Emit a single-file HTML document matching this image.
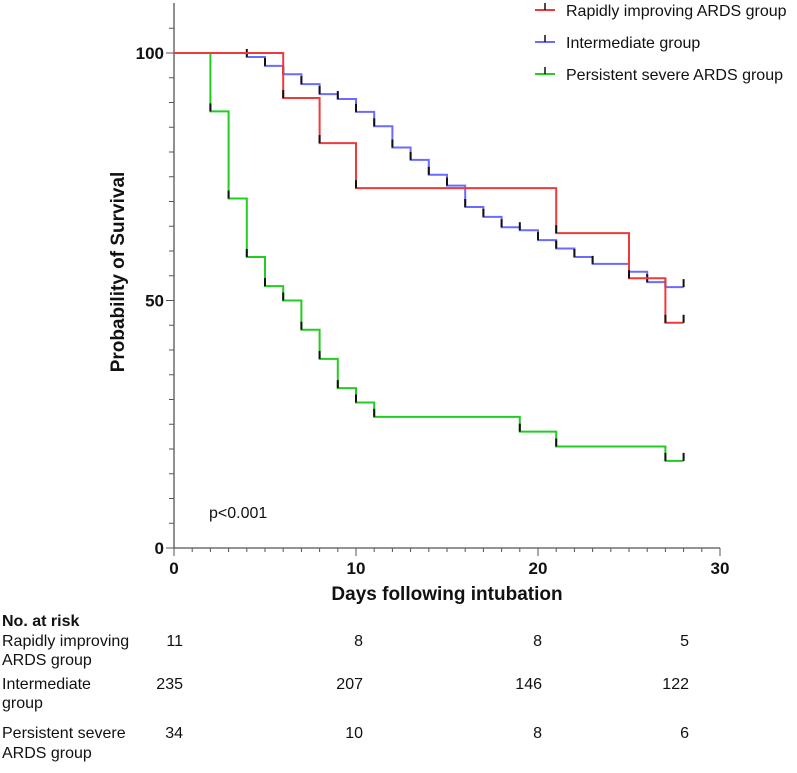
<!DOCTYPE html>
<html><head><meta charset="utf-8"><style>
html,body{margin:0;padding:0;background:#fff;width:797px;height:773px;overflow:hidden}
svg text{font-family:"Liberation Sans",Arial,sans-serif}
</style></head><body>
<svg id="chart" width="797" height="773" viewBox="0 0 797 773" xmlns="http://www.w3.org/2000/svg"></svg>
<script>
const redDays=[0,6,8,10,21,25,27,28];
const redVals=[100,90.9,81.8,72.7,63.6,54.5,45.5,45.5];
const blueDays=[0,4,5,6,7,8,9,10,11,12,13,14,15,16,17,18,19,20,21,22,23,25,26,27,28];
const blueVals=[100,99.2,97.4,95.7,93.7,91.7,90.7,88.1,85.2,80.9,78.4,75.4,73.2,68.9,66.9,64.8,64.2,62.2,60.5,58.8,57.4,55.8,53.7,52.7,52.7];
const greenDays=[0,2,3,4,5,6,7,8,9,10,11,19,21,27,28];
const greenVals=[100,88.2,70.6,58.8,52.9,50,44.1,38.2,32.3,29.4,26.5,23.5,20.5,17.6,17.6];
const xTicks=[0,10,20,30];
const yTicks=[0,50,100];
const riskDays=[0,10,20,28];
const riskRed=[11,8,8,5];
const riskBlue=[235,207,146,122];
const riskGreen=[34,10,8,6];

const X0=174,XPX=18.2,Y0=548,YPX=4.95;
function x(d){return X0+d*XPX;}
function y(v){return Y0-v*YPX;}
const svg=document.getElementById('chart');
const NS='http://www.w3.org/2000/svg';
function mk(tag,attrs,parent){const e=document.createElementNS(NS,tag);for(const k in attrs)e.setAttribute(k,attrs[k]);(parent||svg).appendChild(e);return e;}

// axes
const ax=mk('g',{});


mk('line',{x1:X0,y1:3,x2:X0,y2:Y0,stroke:'#555','stroke-width':1.3},ax);
mk('line',{x1:X0,y1:Y0,x2:x(30),y2:Y0,stroke:'#555','stroke-width':1.3},ax);
for(let v=0;v<=105;v+=5){const L=(v%50===0)?8:5;mk('line',{x1:X0-L,y1:y(v),x2:X0,y2:y(v),stroke:'#555','stroke-width':1},ax);}
for(let d=0;d<=30;d++){const L=(d%10===0)?8:4;mk('line',{x1:x(d),y1:Y0,x2:x(d),y2:Y0+L,stroke:'#555','stroke-width':1},ax);}
yTicks.forEach(v=>{const t=mk('text',{x:X0-10,y:y(v)+6,'text-anchor':'end','font-size':17,'font-weight':'bold',fill:'#111'},ax);t.textContent=v;
});
xTicks.forEach(d=>{const t=mk('text',{x:x(d),y:Y0+26,'text-anchor':'middle','font-size':17,'font-weight':'bold',fill:'#111'},ax);t.textContent=d;
});
const xt=mk('text',{x:447,y:600,'text-anchor':'middle','font-size':19,'font-weight':'bold',fill:'#111'});
xt.textContent='Days following intubation';


const yt=mk('text',{x:0,y:0,'text-anchor':'middle','font-size':19,'font-weight':'bold',fill:'#111',transform:'translate(124,272) rotate(-90)'});
yt.textContent='Probability of Survival';


const pt=mk('text',{x:209,y:518,'font-size':16,fill:'#111'});
pt.textContent='p<0.001';



function curve(days,vals,color,name){
  const g=mk('g',{});
  
  
  let d='M'+x(days[0])+','+y(vals[0]);
  for(let i=1;i<days.length;i++){d+=' H'+x(days[i])+' V'+y(vals[i]);}
  mk('path',{d:d,fill:'none',stroke:color,'stroke-width':2},g);
  for(let i=1;i<days.length;i++){
    const tk=mk('line',{x1:x(days[i]),y1:y(vals[i])-8,x2:x(days[i]),y2:y(vals[i]),stroke:'#111','stroke-width':2},g);
    
    
  }
}
curve(blueDays,blueVals,'#6b6bff','intermediate-curve');
curve(greenDays,greenVals,'#22cc22','persistent-severe-curve');
curve(redDays,redVals,'#f03a3a','rapidly-improving-curve');

// legend
const legItems=[['Rapidly improving ARDS group','#f03a3a',10],['Intermediate group','#6b6bff',42],['Persistent severe ARDS group','#22cc22',74]];
legItems.forEach(it=>{
  const g=mk('g',{});
  
  
  mk('line',{x1:535,y1:it[2],x2:555,y2:it[2],stroke:it[1],'stroke-width':2},g);
  mk('line',{x1:545,y1:it[2]-7,x2:545,y2:it[2],stroke:'#111','stroke-width':1.5},g);
  const t=mk('text',{x:566,y:it[2]+6,'font-size':16,fill:'#111'},g);t.textContent=it[0];
});

// risk table
const tb=mk('g',{});


function txt(s,xx,yy,opts){const t=mk('text',Object.assign({x:xx,y:yy,'font-size':16,fill:'#111'},opts||{}),tb);t.textContent=s;return t;}
txt('No. at risk',2,626,{'font-weight':'bold'});
txt('Rapidly improving',2,646);txt('ARDS group',2,665);
txt('Intermediate',2,689);txt('group',2,708);
txt('Persistent severe',2,738);txt('ARDS group',2,758);
const riskX=[183,363,542,689];
[[riskRed,646],[riskBlue,689],[riskGreen,738]].forEach(r=>{
  r[0].forEach((v,i)=>{const t=txt(String(v),riskX[i],r[1],{'text-anchor':'end'});
  });
});
</script>
</body></html>
